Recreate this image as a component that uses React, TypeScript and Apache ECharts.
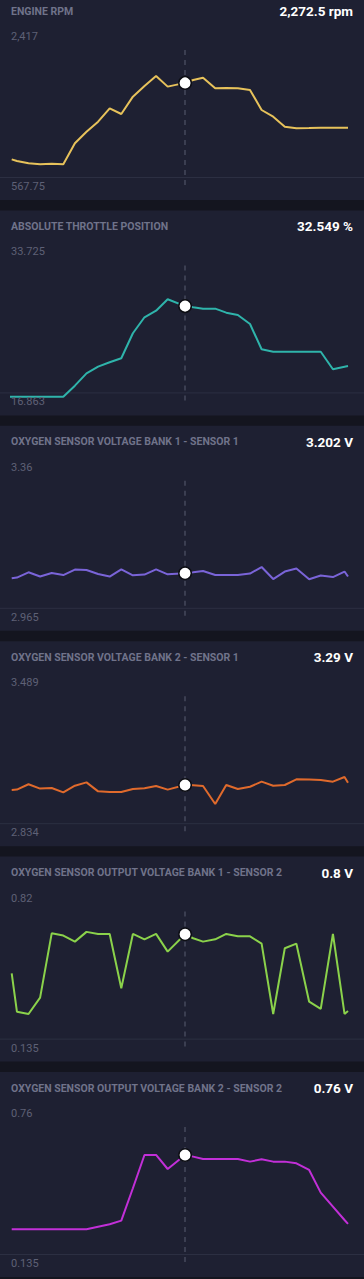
import React, { useEffect, useRef } from "react";
import * as echarts from "echarts";

// Shared sample times (seconds) and cursor position
const TIMES = [0, 0.45, 1.45, 2.45, 3.45, 4.45, 5.45, 6.45, 7.45, 8.45, 9.45, 10.45, 11.45, 12.45, 13.45, 14.95, 15.65, 16.5, 17.55, 18.5, 19.5, 20.55, 21.55, 22.55, 23.55, 24.55, 25.65, 26.65, 27.7, 28.7, 29];
const CURSOR_INDEX = 15;

const RPM = [672, 637, 588, 567.75, 581, 570, 1007, 1251, 1461, 1740, 1621, 1984, 2208, 2417, 2194, 2272.5, 2333, 2382, 2159, 2166, 2159, 2124, 1705, 1565, 1356, 1321, 1328, 1335, 1335, 1335, 1335];
const THROTTLE_LEAD_TIME = -0.66;
const THROTTLE_LEAD_VALUE = 16.863;
const THROTTLE = [16.863, 16.863, 16.863, 16.863, 16.863, 16.863, 18.77, 20.91, 22.06, 22.82, 23.51, 27.84, 30.61, 31.75, 33.725, 32.549, 32.33, 32.1, 32.1, 31.41, 31.01, 29.45, 25.07, 24.65, 24.65, 24.65, 24.65, 24.65, 21.61, 22.06, 22.18];
const O2_B1S1 = [3.182, 3.185, 3.206, 3.189, 3.203, 3.195, 3.217, 3.215, 3.199, 3.189, 3.218, 3.194, 3.197, 3.218, 3.198, 3.202, 3.206, 3.211, 3.195, 3.195, 3.195, 3.201, 3.227, 3.179, 3.209, 3.221, 3.178, 3.193, 3.187, 3.209, 3.189];
const O2_B2S1 = [3.256, 3.258, 3.295, 3.265, 3.269, 3.239, 3.285, 3.308, 3.246, 3.242, 3.242, 3.262, 3.267, 3.283, 3.258, 3.29, 3.288, 3.283, 3.159, 3.29, 3.262, 3.278, 3.313, 3.285, 3.29, 3.329, 3.327, 3.325, 3.313, 3.345, 3.306];
const O2_B1S2 = [0.476, 0.157, 0.138, 0.274, 0.808, 0.789, 0.739, 0.82, 0.803, 0.803, 0.351, 0.803, 0.758, 0.803, 0.656, 0.8, 0.767, 0.739, 0.758, 0.803, 0.783, 0.783, 0.722, 0.138, 0.684, 0.722, 0.24, 0.18, 0.803, 0.138, 0.163];
const O2_B2S2 = [0.135, 0.135, 0.135, 0.135, 0.135, 0.135, 0.135, 0.135, 0.157, 0.177, 0.208, 0.48, 0.76, 0.76, 0.642, 0.76, 0.746, 0.726, 0.726, 0.726, 0.726, 0.704, 0.724, 0.704, 0.704, 0.69, 0.634, 0.443, 0.326, 0.213, 0.18];

const TITLES = [
  "ENGINE RPM",
  "ABSOLUTE THROTTLE POSITION",
  "OXYGEN SENSOR VOLTAGE BANK 1 - SENSOR 1",
  "OXYGEN SENSOR VOLTAGE BANK 2 - SENSOR 1",
  "OXYGEN SENSOR OUTPUT VOLTAGE BANK 1 - SENSOR 2",
  "OXYGEN SENSOR OUTPUT VOLTAGE BANK 2 - SENSOR 2",
];
const CURRENT_LABELS = ["2,272.5 rpm", "32.549 %", "3.202 V", "3.29 V", "0.8 V", "0.76 V"];
const MAX_LABELS = ["2,417", "33.725", "3.36", "3.489", "0.82", "0.76"];
const MIN_LABELS = ["567.75", "16.863", "2.965", "2.834", "0.135", "0.135"];
const COLORS = ["#e7c25b", "#2fb4ab", "#7a64d8", "#e06a2c", "#8bd24b", "#c22fd8"];
const Y_RANGES: [number, number][] = [
  [134.5, 3003],
  [16.22, 39.94],
  [3.032, 3.58],
  [2.971, 3.9165],
  [-0.133, 1.005],
  [-0.14, 1.012],
];

const W = 364;
const H = 1279;
const PANEL_TOP0 = -5;
const PITCH = 215.4;
const PANEL_H = 205;
const PANEL_BG = "#1e2032";
const PAGE_BG = "#14151f";

function buildSeriesData(i: number): number[][] {
  const vals = [RPM, THROTTLE, O2_B1S1, O2_B2S1, O2_B1S2, O2_B2S2][i];
  const d = TIMES.map((t, k) => [t, vals[k]]);
  if (i === 1) d.unshift([THROTTLE_LEAD_TIME, THROTTLE_LEAD_VALUE]);
  return d;
}
function cursorValue(i: number): number {
  const vals = [RPM, THROTTLE, O2_B1S1, O2_B2S1, O2_B1S2, O2_B2S2][i];
  return vals[CURSOR_INDEX];
}

export default function App() {
  const ref = useRef<HTMLDivElement>(null);
  useEffect(() => {
    if (!ref.current) return;
    const chart = echarts.init(ref.current, undefined, { renderer: "svg", width: W, height: H });
    const grids: any[] = [];
    const xAxes: any[] = [];
    const yAxes: any[] = [];
    const series: any[] = [];
    const graphics: any[] = [];
    const font = "Roboto, 'Noto Sans', sans-serif";
    for (let i = 0; i < 6; i++) {
      const top = PANEL_TOP0 + i * PITCH;
      grids.push({ left: 11.7, width: 336.3, top: top + 53, height: 137 });
      xAxes.push({ type: "value", gridIndex: i, min: 0, max: 29, show: false });
      yAxes.push({ type: "value", gridIndex: i, min: Y_RANGES[i][0], max: Y_RANGES[i][1], show: false });
      series.push({
        type: "line",
        xAxisIndex: i,
        yAxisIndex: i,
        data: buildSeriesData(i),
        showSymbol: false,
        clip: false,
        lineStyle: { color: COLORS[i], width: 2 },
        z: 3,
        markLine: {
          silent: true,
          symbol: "none",
          label: { show: false },
          lineStyle: { color: "#45485c", type: [5, 5], width: 1.5 },
          data: [{ xAxis: TIMES[CURSOR_INDEX] }],
          z: 2,
        },
      });
      series.push({
        type: "scatter",
        xAxisIndex: i,
        yAxisIndex: i,
        data: [[TIMES[CURSOR_INDEX], cursorValue(i)]],
        symbolSize: 12.5,
        itemStyle: { color: "#ffffff", borderColor: "#0d0e14", borderWidth: 1.5, opacity: 1 },
        z: 5,
      });
      graphics.push({
        type: "rect",
        z: -10,
        shape: { x: 0, y: top, width: W, height: PANEL_H },
        style: { fill: PANEL_BG },
      });
      graphics.push({
        type: "line",
        z: -9,
        shape: { x1: 0, y1: top + 182.5, x2: W, y2: top + 182.5 },
        style: { stroke: "#2c2f42", lineWidth: 1 },
      });
      graphics.push({
        type: "text",
        z: 10,
        x: 11,
        y: top + 16,
        style: { text: TITLES[i], fill: "#70738a", font: `bold 10.5px ${font}`, textVerticalAlign: "middle", textAlign: "left" },
      });
      graphics.push({
        type: "text",
        z: 10,
        x: 353,
        y: top + 16,
        style: { text: CURRENT_LABELS[i], fill: "#ffffff", font: `bold 13.5px ${font}`, textVerticalAlign: "middle", textAlign: "right" },
      });
      graphics.push({
        type: "text",
        z: 10,
        x: 11,
        y: top + 41.5,
        style: { text: MAX_LABELS[i], fill: "#5e6176", font: `11px ${font}`, textVerticalAlign: "middle", textAlign: "left" },
      });
      graphics.push({
        type: "text",
        z: 10,
        x: 11,
        y: top + 191.5,
        style: { text: MIN_LABELS[i], fill: "#5e6176", font: `11px ${font}`, textVerticalAlign: "middle", textAlign: "left" },
      });
    }
    chart.setOption({
      animation: false,
      backgroundColor: PAGE_BG,
      grid: grids,
      xAxis: xAxes,
      yAxis: yAxes,
      series,
      graphic: { elements: graphics },
    });
    return () => chart.dispose();
  }, []);
  return <div ref={ref} style={{ position: "absolute", left: 0, top: 0, width: W, height: H }} />;
}
